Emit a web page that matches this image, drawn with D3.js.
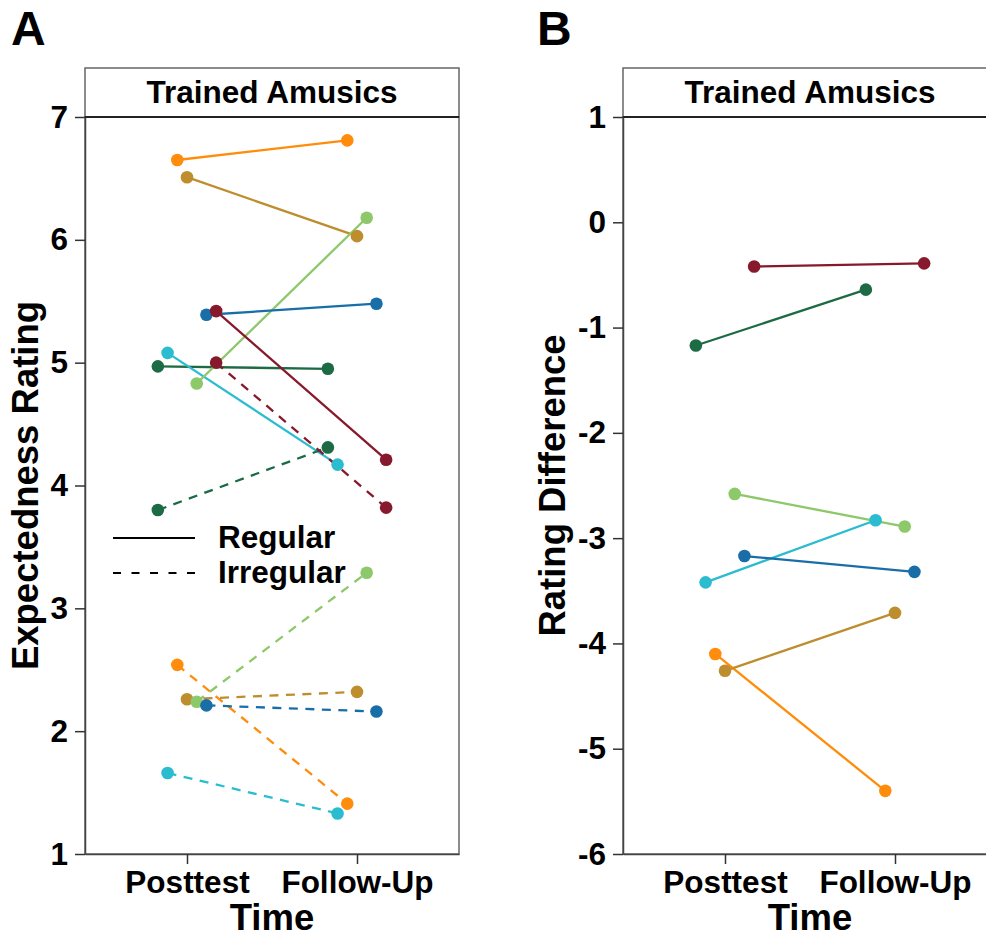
<!DOCTYPE html>
<html>
<head>
<meta charset="utf-8">
<script src="https://cdn.jsdelivr.net/npm/d3@7"></script>
<style>
  body { margin: 0; background: #fff; }
  svg text { font-family: "Liberation Sans", Arial, sans-serif; font-weight: bold; fill: #000; }
</style>
</head>
<body>
<svg id="chart" width="986" height="937"></svg>
<script>
// subjects in dodge order (left to right within each time point)
const subjectColors = ["#1d6b44", "#2bbcd0", "#ff8c0a", "#bd8d2e", "#8dc86a", "#1a6ea8", "#86192b"]
const times = ["Posttest", "Follow-Up"]
const conditions = ["Regular", "Irregular"]

// panel A: expectedness rating [posttest, follow-up] per subject
const regularRatings = [[4.97, 4.95], [5.08, 4.17], [6.65, 6.81], [6.51, 6.03], [4.83, 6.18], [5.39, 5.48], [5.42, 4.21]]
const irregularRatings = [[3.80, 4.31], [1.66, 1.33], [2.54, 1.41], [2.26, 2.32], [2.24, 3.29], [2.21, 2.16], [5.00, 3.82]]
// panel B: rating difference [posttest, follow-up] per subject
const ratingDifference = [[-1.17, -0.64], [-3.42, -2.83], [-4.10, -5.40], [-4.26, -3.71], [-2.58, -2.89], [-3.17, -3.32], [-0.42, -0.39]]

const yTicksA = [1, 2, 3, 4, 5, 6, 7]
const yTicksB = [-6, -5, -4, -3, -2, -1, 0, 1]

let svg = d3.select("#chart")
let panel_w = 374
let panel_h = 737
let panel_top = 117
let strip_h = 49

function draw_panel(opts) {
  let g = svg.append("g").attr("transform", "translate(" + opts.left + "," + panel_top + ")")

  let x = d3.scalePoint().domain(times).range([0, panel_w]).padding(0.6)
  let dodge = d3.scaleBand().domain(d3.range(subjectColors.length))
    .range([-0.2 * x.step(), 0.2 * x.step()])
  let y = d3.scaleLinear().domain(opts.domain).range([panel_h, 0])
  let px = (i, t) => x(times[t]) + dodge(i) + dodge.bandwidth() / 2

  // strip
  g.append("rect")
    .attr("x", 0).attr("y", -strip_h)
    .attr("width", panel_w).attr("height", strip_h)
    .attr("fill", "#fff").attr("stroke", "#666").attr("stroke-width", 1.5)
  g.append("text")
    .attr("x", panel_w / 2).attr("y", -14)
    .attr("text-anchor", "middle")
    .style("font-size", "31.5px")
    .text("Trained Amusics")

  // panel border
  g.append("rect")
    .attr("width", panel_w).attr("height", panel_h)
    .attr("fill", "none").attr("stroke", "#666").attr("stroke-width", 1.5)
  g.append("line")
    .attr("x1", 0).attr("x2", panel_w)
    .attr("stroke", "#222").attr("stroke-width", 2)

  // axes
  let ya = g.append("g")
    .call(d3.axisLeft(y).tickValues(opts.ticks).tickFormat(d3.format("d")).tickSize(10).tickSizeOuter(0).tickPadding(7))
  let xa = g.append("g").attr("transform", "translate(0," + panel_h + ")")
    .call(d3.axisBottom(x).tickSize(10).tickSizeOuter(0).tickPadding(7))
  for (let a of [ya, xa]) {
    a.select(".domain").attr("stroke", "#444").attr("stroke-width", 1.5)
    a.selectAll(".tick line").attr("stroke", "#333").attr("stroke-width", 1.5)
    a.selectAll(".tick text").style("font-size", "31.5px").attr("fill", "#000")
  }
  ya.selectAll(".tick text").text(d => d < 0 ? "-" + Math.abs(d) : d)

  // axis titles
  g.append("text")
    .attr("x", panel_w / 2).attr("y", 813)
    .attr("text-anchor", "middle")
    .style("font-size", "36.5px")
    .text("Time")
  g.append("text")
    .attr("transform", "translate(" + opts.titleX + "," + (panel_h / 2) + ") rotate(-90)")
    .attr("text-anchor", "middle")
    .style("font-size", "36.5px")
    .text(opts.yTitle)

  // panel letter
  svg.append("text")
    .attr("x", opts.letterX).attr("y", 45)
    .style("font-size", "48px")
    .text(opts.letter)

  // lines and points
  let line = d3.line().x(d => d.x).y(d => y(d.v))
  opts.series.forEach(s => {
    let rows = s.values.map((vals, i) => ({
      color: subjectColors[i],
      pts: vals.map((v, t) => ({ x: px(i, t), v: v }))
    }))
    g.append("g").selectAll("path").data(rows).join("path")
      .attr("d", d => line(d.pts))
      .attr("fill", "none")
      .attr("stroke", d => d.color)
      .attr("stroke-width", 2.3)
      .attr("stroke-dasharray", s.dash)
  })
  opts.series.forEach(s => {
    let pts = s.values.flatMap((vals, i) => vals.map((v, t) => ({ x: px(i, t), v: v, color: subjectColors[i] })))
    g.append("g").selectAll("circle").data(pts).join("circle")
      .attr("cx", d => d.x).attr("cy", d => y(d.v))
      .attr("r", 6.3)
      .attr("fill", d => d.color)
  })
  return g
}

let gA = draw_panel({
  left: 85, domain: [1, 7], ticks: yTicksA, letter: "A", letterX: 11,
  yTitle: "Expectedness Rating", titleX: -47,
  series: [
    { values: regularRatings, dash: null },
    { values: irregularRatings, dash: "9,7.5" }
  ]
})

draw_panel({
  left: 623, domain: [-6, 1], ticks: yTicksB, letter: "B", letterX: 537,
  yTitle: "Rating Difference", titleX: -58,
  series: [
    { values: ratingDifference, dash: null }
  ]
})

// legend for line type in panel A
let legend = gA.append("g").attr("transform", "translate(28,421)")
  .selectAll("g").data(conditions).join("g")
    .attr("transform", (d, i) => "translate(0," + (i * 35) + ")")
legend.append("line")
  .attr("x1", 0).attr("x2", 82)
  .attr("stroke", "#000").attr("stroke-width", 2)
  .attr("stroke-dasharray", (d, i) => i ? "8,10.5" : null)
legend.append("text")
  .attr("x", 105).attr("y", 10)
  .style("font-size", "31.5px")
  .text(d => d)
</script>
</body>
</html>
